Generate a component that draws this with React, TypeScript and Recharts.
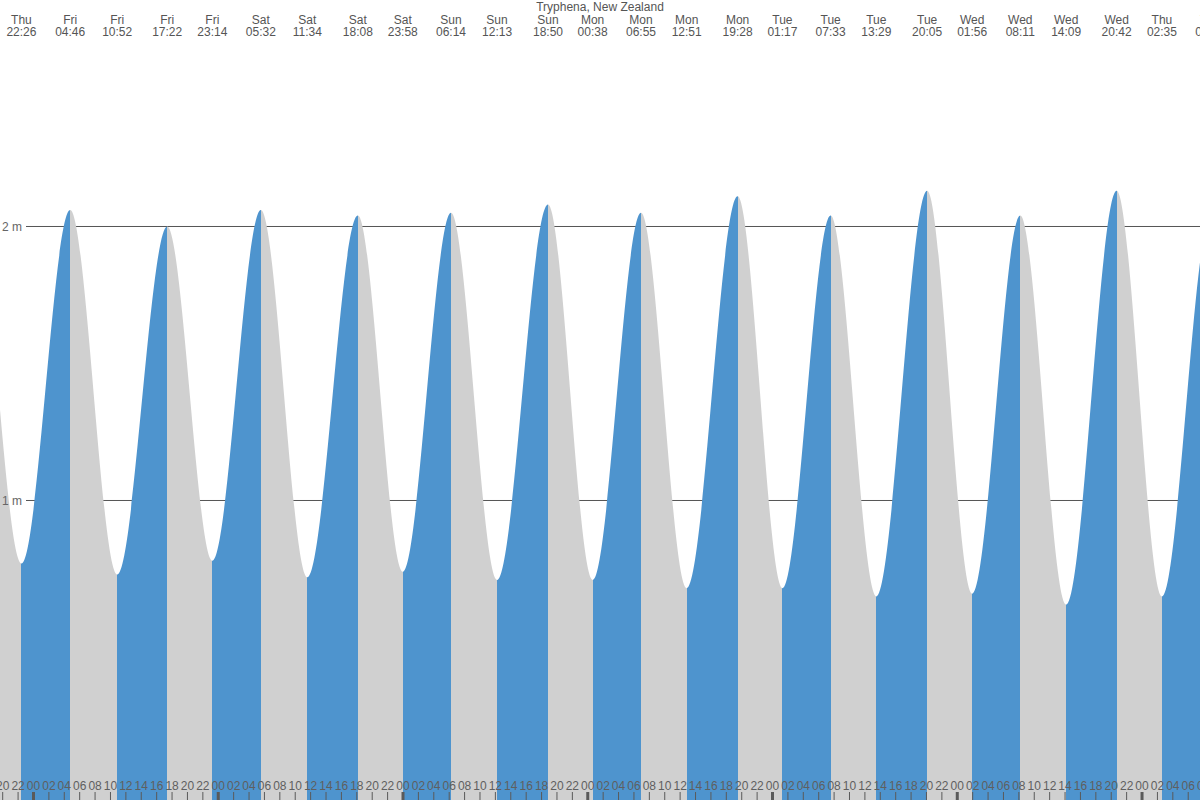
import { Area, AreaChart, CartesianGrid, XAxis, YAxis } from "recharts";

// high / low tide events, Thu -> following Thu
const tideDays = [
  "Thu", "Thu", "Thu", "Fri", "Fri", "Fri", "Fri", "Sat", "Sat", "Sat", "Sat",
  "Sun", "Sun", "Sun", "Mon", "Mon", "Mon", "Mon", "Tue", "Tue", "Tue",
  "Tue", "Wed", "Wed", "Wed", "Wed", "Thu", "Thu", "Thu",
];
const tideTimes = [
  "09:55", "16:15", "22:26", "04:46", "10:52", "17:22", "23:14", "05:32", "11:34", "18:08", "23:58",
  "06:14", "12:13", "18:50", "00:38", "06:55", "12:51", "19:28", "01:17", "07:33", "13:29",
  "20:05", "01:56", "08:11", "14:09", "20:42", "02:35", "08:52", "15:00",
];
const tideHeights = [
  0.8, 2.09, 0.77, 2.06, 0.73, 2.0, 0.78, 2.06, 0.72, 2.04, 0.74,
  2.05, 0.71, 2.08, 0.71, 2.05, 0.68, 2.11, 0.68, 2.04, 0.65,
  2.13, 0.66, 2.04, 0.62, 2.13, 0.65, 2.03, 0.7,
];

const yTicks = [1, 2];
const hourTicks = Array.from({ length: 79 }, (_, i) => 20 + i * 2);

const BLUE = "#4e94ce";
const GREY = "#d0d0d0";
const TEXT = "#555";
const FONT = "'Liberation Sans', Arial, sans-serif";

// hours since first Thursday 00:00
let dayIdx = 0;
const tideData = tideDays.map((day, i) => {
  if (i > 0 && day !== tideDays[i - 1]) dayIdx += 1;
  const [hh, mm] = tideTimes[i].split(":").map(Number);
  return { t: dayIdx * 24 + hh + mm / 60, h: tideHeights[i], day, time: tideTimes[i] };
});

const tFirst = tideData[0].t;
const tLast = tideData[tideData.length - 1].t;
const fillStops = tideData.slice(0, -1).flatMap((d, i) => {
  const next = tideData[i + 1];
  const color = next.h > d.h ? BLUE : GREY;
  return [
    { offset: (d.t - tFirst) / (tLast - tFirst), color },
    { offset: (next.t - tFirst) / (tLast - tFirst), color },
  ];
});

const X_DOMAIN: [number, number] = [19.65, 175.53];
const Y_DOMAIN: [number, number] = [-0.0931, 2.8266];

const HourTick = (props: any) => {
  const { x, y, payload } = props;
  const hour = ((payload.value % 24) + 24) % 24;
  return (
    <g>
      <line
        x1={x}
        x2={x}
        y1={y + 2}
        y2={y + 10}
        stroke="#5a5a5a"
        strokeWidth={hour === 0 ? 3 : 1}
      />
      <text x={x} y={y} textAnchor="middle" fill="#5f5f5f" fontSize={12} fontFamily={FONT}>
        {String(hour).padStart(2, "0")}
      </text>
    </g>
  );
};

const EventTick = (props: any) => {
  const { x, y, payload } = props;
  const ev = tideData.find((d) => Math.abs(d.t - payload.value) < 1e-6);
  if (!ev) return null;
  return (
    <g fill={TEXT} fontSize={12} fontFamily={FONT}>
      <text x={x} y={y + 24} textAnchor="middle">
        {ev.day}
      </text>
      <text x={x} y={y + 36} textAnchor="middle">
        {ev.time}
      </text>
    </g>
  );
};

const MetreTick = (props: any) => {
  const { x, y, payload } = props;
  return (
    <text x={x + 22} y={y + 4.5} textAnchor="end" fill="#666" fontSize={12} fontFamily={FONT}>
      {payload.value} m
    </text>
  );
};

export default function App() {
  return (
    <div
      style={{
        position: "absolute",
        left: 0,
        top: 0,
        width: 1200,
        height: 800,
        overflow: "hidden",
        background: "#fff",
      }}
    >
      <AreaChart
        width={1200}
        height={800}
        data={tideData}
        margin={{ top: 0, right: 0, bottom: 0, left: 0 }}
      >
        <defs>
          <linearGradient id="tideFill" x1="0" y1="0" x2="1" y2="0">
            {fillStops.map((s, i) => (
              <stop key={i} offset={s.offset} stopColor={s.color} />
            ))}
          </linearGradient>
        </defs>
        <CartesianGrid
          x={26}
          width={1174}
          vertical={false}
          syncWithTicks
          stroke="#555"
          strokeWidth={1}
        />
        <XAxis
          xAxisId="bottom"
          dataKey="t"
          type="number"
          domain={X_DOMAIN}
          allowDataOverflow
          ticks={hourTicks}
          interval={0}
          mirror
          orientation="bottom"
          axisLine={false}
          tickLine={false}
          tickSize={8}
          tickMargin={2}
          tick={<HourTick />}
        />
        <XAxis
          xAxisId="top"
          dataKey="t"
          type="number"
          domain={X_DOMAIN}
          allowDataOverflow
          ticks={tideData.map((d) => d.t)}
          interval={0}
          mirror
          orientation="top"
          axisLine={false}
          tickLine={false}
          tickSize={0}
          tickMargin={0}
          tick={<EventTick />}
        />
        <YAxis
          type="number"
          domain={Y_DOMAIN}
          allowDataOverflow
          ticks={yTicks}
          interval={0}
          mirror
          axisLine={false}
          tickLine={false}
          tickSize={0}
          tickMargin={0}
          tick={<MetreTick />}
        />
        <Area
          xAxisId="bottom"
          dataKey="h"
          type="monotoneX"
          baseValue="dataMin"
          stroke="none"
          fill="url(#tideFill)"
          fillOpacity={1}
          isAnimationActive={false}
          dot={false}
          activeDot={false}
        />
        <text x={600} y={11} textAnchor="middle" fill={TEXT} fontSize={12} fontFamily={FONT}>
          Tryphena, New Zealand
        </text>
      </AreaChart>
    </div>
  );
}
